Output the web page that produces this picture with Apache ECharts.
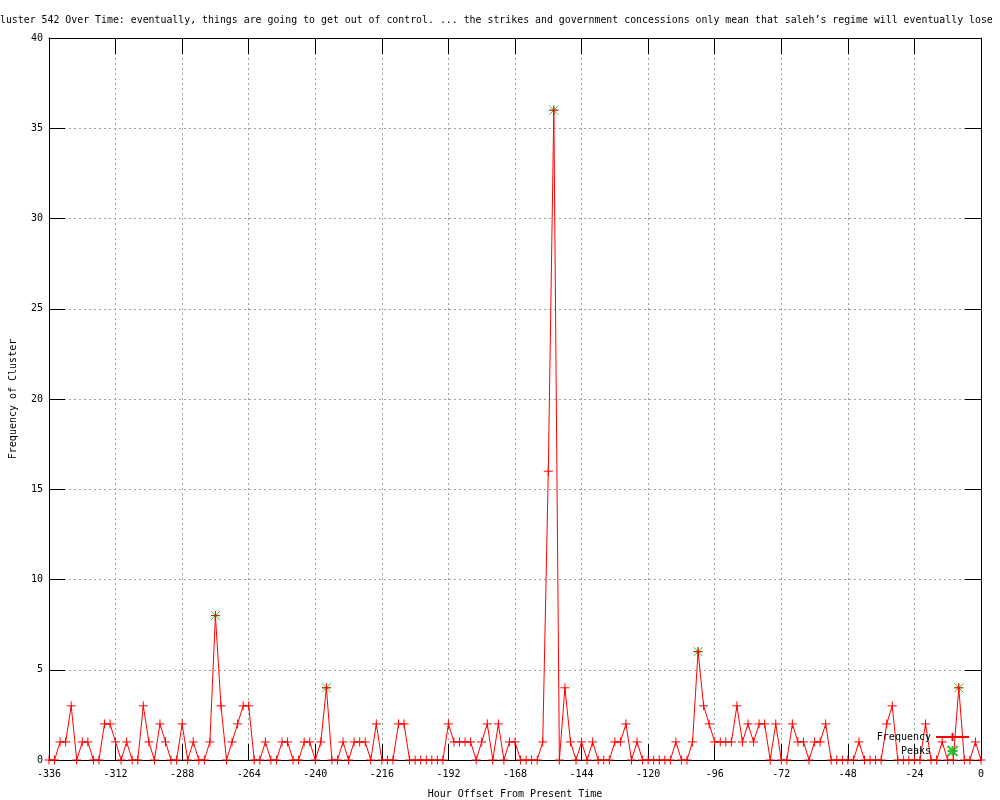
<!DOCTYPE html>
<html>
<head>
<meta charset="utf-8">
<script src="https://cdn.jsdelivr.net/npm/echarts@6/dist/echarts.min.js"></script>
<style>
  body { margin: 0; background: #fff; }
  #chart { width: 1000px; height: 800px; }
</style>
</head>
<body>
<div id="chart"></div>
<script>
// hour offsets: one sample every 2 hours from -336 to 0
var startHour = -336
var stepHours = 2
// frequency per 2-hour bin
var frequency = [
  0, 0, 1, 1, 3, 0, 1, 1, 0, 0, 2, 2, 1, 0, 1, 0, 0, 3, 1, 0,
  2, 1, 0, 0, 2, 0, 1, 0, 0, 1, 8, 3, 0, 1, 2, 3, 3, 0, 0, 1,
  0, 0, 1, 1, 0, 0, 1, 1, 0, 1, 4, 0, 0, 1, 0, 1, 1, 1, 0, 2,
  0, 0, 0, 2, 2, 0, 0, 0, 0, 0, 0, 0, 2, 1, 1, 1, 1, 0, 1, 2,
  0, 2, 0, 1, 1, 0, 0, 0, 0, 1, 16, 36, 0, 4, 1, 0, 1, 0, 1, 0,
  0, 0, 1, 1, 2, 0, 1, 0, 0, 0, 0, 0, 0, 1, 0, 0, 1, 6, 3, 2,
  1, 1, 1, 1, 3, 1, 2, 1, 2, 2, 0, 2, 0, 0, 2, 1, 1, 0, 1, 1,
  2, 0, 0, 0, 0, 0, 1, 0, 0, 0, 0, 2, 3, 0, 0, 0, 0, 0, 2, 0,
  0, 1, 0, 0, 4, 0, 0, 1, 0
]
var peakHours = [-276, -236, -154, -102, -8]
var peakValues = [8, 4, 36, 6, 4]

var titleText = 'Cluster 542 Over Time: eventually, things are going to get out of control. ... the strikes and government concessions only mean that saleh\u2019s regime will eventually lose'

var font = 'DejaVu Sans Mono'
var plus = 'path://M0,4.5L9,4.5M4.5,0L4.5,9'
var star = 'path://M0,0L9,9M9,0L0,9M4.5,0L4.5,9M0,4.5L9,4.5'

var freqData = []
for (var i = 0; i < frequency.length; i++) {
  freqData.push([startHour + i * stepHours, frequency[i]])
}
var peakData = []
for (var j = 0; j < peakHours.length; j++) {
  peakData.push([peakHours[j], peakValues[j]])
}

var chart = echarts.init(document.getElementById('chart'))

function xAxisCfg(pos, labels) {
  return {
    type: 'value',
    position: pos,
    min: -336,
    max: 0,
    interval: 24,
    axisLine: { show: true, onZero: false, lineStyle: { color: '#000', width: 1 } },
    axisTick: { show: true, inside: true, length: 16, lineStyle: { color: '#000' } },
    axisLabel: { show: labels, margin: 9, color: '#000', fontFamily: font, fontSize: 10 },
    splitLine: { show: labels, lineStyle: { color: '#a0a0a0', type: [2, 3], width: 1 } }
  }
}
function yAxisCfg(pos, labels) {
  return {
    type: 'value',
    position: pos,
    min: 0,
    max: 40,
    interval: 5,
    axisLine: { show: true, onZero: false, lineStyle: { color: '#000', width: 1 } },
    axisTick: { show: true, inside: true, length: 16, lineStyle: { color: '#000' } },
    axisLabel: { show: labels, margin: 6, color: '#000', fontFamily: font, fontSize: 10 },
    splitLine: { show: labels, lineStyle: { color: '#a0a0a0', type: [2, 3], width: 1 } }
  }
}

var xBottom = xAxisCfg('bottom', true)
xBottom.name = 'Hour Offset From Present Time'
xBottom.nameLocation = 'middle'
xBottom.nameGap = 29
xBottom.nameTextStyle = { color: '#000', fontFamily: font, fontSize: 10 }

var yLeft = yAxisCfg('left', true)
yLeft.name = 'Frequency of Cluster'
yLeft.nameLocation = 'middle'
yLeft.nameGap = 31
yLeft.nameRotate = 90
yLeft.nameTextStyle = { color: '#000', fontFamily: font, fontSize: 10 }

var options = {
  animation: false,
  backgroundColor: '#fff',
  // title is wider than the canvas, so it is placed by hand and clipped
  graphic: [{
    type: 'text',
    left: -6,
    top: 15,
    style: { text: titleText, fill: '#000', font: '9.9px "DejaVu Sans Mono"' }
  }],
  grid: { left: 49, right: 19, top: 38, bottom: 40, outerBoundsMode: 'none', containLabel: false },
  legend: {
    orient: 'vertical',
    right: 25,
    top: 727,
    align: 'right',
    itemWidth: 33,
    itemHeight: 10,
    itemGap: 3,
    textStyle: { color: '#000', fontFamily: font, fontSize: 10 },
    data: ['Frequency', 'Peaks']
  },
  xAxis: [xBottom, xAxisCfg('top', false)],
  yAxis: [yLeft, yAxisCfg('right', false)],
  series: [
    {
      name: 'Peaks',
      type: 'scatter',
      data: peakData,
      symbol: star,
      symbolSize: 9,
      z: 2,
      itemStyle: { color: '#00b000', borderColor: '#00b000', borderWidth: 1 }
    },
    {
      name: 'Frequency',
      type: 'line',
      data: freqData,
      symbol: plus,
      symbolSize: 9,
      z: 3,
      lineStyle: { color: '#ff0000', width: 1 },
      itemStyle: { color: '#ff0000', borderColor: '#ff0000', borderWidth: 1 }
    }
  ]
}
chart.setOption(options)
</script>
</body>
</html>
